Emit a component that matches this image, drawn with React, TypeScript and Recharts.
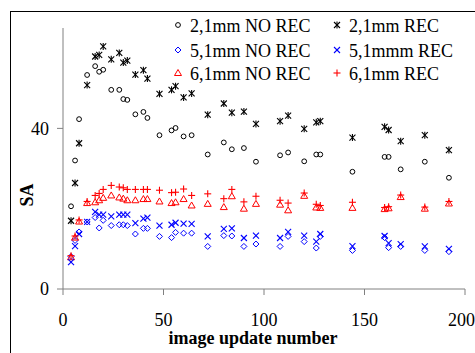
import { ScatterChart, Scatter, XAxis, YAxis } from "recharts";

const updates = [4, 6, 8, 12, 16, 18, 20, 24, 28, 30, 32, 36, 40, 42, 48, 54, 56, 60, 64, 72, 80, 84, 90, 96, 108, 112, 120, 126, 128, 144, 160, 162, 168, 180, 192];

const noRec21 = [20.6, 32, 42.3, 53.3, 55.5, 54.1, 54.6, 49.6, 49.6, 47.3, 47.1, 43.5, 44.1, 42.6, 38.3, 39.5, 40.1, 38, 38.3, 33.5, 36.5, 34.8, 35.1, 31.7, 33.3, 34, 31.8, 33.5, 33.5, 29.2, 32.9, 32.9, 29.8, 31.7, 27.7];
const rec21 = [17, 26.4, 36.3, 50.8, 57.9, 58.3, 60.4, 57.2, 58.8, 56.4, 56.9, 53.4, 54.5, 52.4, 48.6, 49.6, 50.5, 47.7, 48.7, 43.4, 46.2, 43.9, 44.2, 41.1, 41.8, 43.2, 39.9, 41.5, 41.8, 37.7, 40.4, 39.6, 36.8, 38.3, 34.6];
const noRec51 = [8.1, 12.1, 14.2, 16.7, 17.8, 15.2, 17.1, 15.8, 16, 16, 15.8, 13.7, 15.1, 15.1, 13.1, 12.8, 14.1, 13.9, 13.9, 10.6, 13.3, 13.2, 10.6, 11.2, 10.6, 13.1, 11.8, 10.2, 13.1, 9.6, 12.8, 10.3, 10.6, 9.6, 9.3];
const rec51 = [6.7, 10.7, 13.7, 16.7, 19.2, 18.5, 18.5, 18.1, 18.5, 18.5, 18.5, 16.4, 17.5, 17.8, 15.8, 16, 16.5, 16.3, 16.2, 13.1, 15, 15.1, 12.7, 13.3, 12.7, 14.2, 13.3, 11.8, 13.7, 10.7, 13.2, 11.4, 11.2, 10.6, 10];
const noRec61 = [7.9, 12.8, 16.8, 21.4, 21.6, 22.1, 22.7, 23.3, 22.8, 22.5, 22.1, 22.1, 22.4, 22.4, 21.8, 21.4, 21.6, 22.4, 20.8, 21.2, 20.4, 23.1, 20, 21.2, 21, 19.6, 23.2, 20.3, 20.2, 20.2, 19.9, 20.1, 22.9, 20, 21.3];
const rec61 = [8.3, 13.2, 17.2, 21.8, 23.3, 23.8, 24.8, 25.8, 25.4, 25.2, 24.8, 24.8, 24.8, 24.8, 24.6, 24, 24.1, 24.9, 23.3, 23.7, 22.5, 24.8, 21.7, 23.1, 22.1, 21.4, 23.9, 21.1, 20.8, 21.6, 20.3, 20.5, 23.4, 20.4, 21.8];

const xTicks = [0, 50, 100, 150, 200];
const yTicks = [0, 40];

const FONT = "'Liberation Serif', 'Times New Roman', serif";

const toPoints = (vals: number[]) => updates.map((u, i) => ({ x: u, y: vals[i] }));

type M = { cx: number; cy: number };

const CircleMark = ({ cx, cy }: M) => (
  <circle cx={cx} cy={cy} r={2.4} fill="none" stroke="#000" strokeWidth={1} />
);
const StarMark = ({ cx, cy }: M) => (
  <g stroke="#000" strokeWidth={1.1}>
    <line x1={cx - 3} y1={cy - 3} x2={cx + 3} y2={cy + 3} />
    <line x1={cx - 3} y1={cy + 3} x2={cx + 3} y2={cy - 3} />
    <line x1={cx} y1={cy - 3.5} x2={cx} y2={cy + 3.5} />
  </g>
);
const DiamondMark = ({ cx, cy }: M) => (
  <path d={`M${cx},${cy - 3}L${cx + 3},${cy}L${cx},${cy + 3}L${cx - 3},${cy}Z`} fill="none" stroke="#0000ff" strokeWidth={1} />
);
const CrossMark = ({ cx, cy }: M) => (
  <g stroke="#0000ff" strokeWidth={1.1}>
    <line x1={cx - 3} y1={cy - 3} x2={cx + 3} y2={cy + 3} />
    <line x1={cx - 3} y1={cy + 3} x2={cx + 3} y2={cy - 3} />
  </g>
);
const TriangleMark = ({ cx, cy }: M) => (
  <path d={`M${cx},${cy - 3.5}L${cx + 3.5},${cy + 2.5}L${cx - 3.5},${cy + 2.5}Z`} fill="none" stroke="#ff0000" strokeWidth={1} />
);
const PlusMark = ({ cx, cy }: M) => (
  <g stroke="#ff0000" strokeWidth={1.1}>
    <line x1={cx - 3.5} y1={cy} x2={cx + 3.5} y2={cy} />
    <line x1={cx} y1={cy - 3.5} x2={cx} y2={cy + 3.5} />
  </g>
);

const series = [
  { name: "2,1mm NO REC", vals: noRec21, Mark: CircleMark },
  { name: "5,1mm NO REC", vals: noRec51, Mark: DiamondMark },
  { name: "6,1mm NO REC", vals: noRec61, Mark: TriangleMark },
  { name: "2,1mm REC", vals: rec21, Mark: StarMark },
  { name: "5,1mmm REC", vals: rec51, Mark: CrossMark },
  { name: "6,1mm REC", vals: rec61, Mark: PlusMark },
];

const legendRows = [25, 50, 73];
const legendCols = [178, 337];

export default function App() {
  return (
    <div style={{ position: "absolute", left: 0, top: 0, width: 475, height: 353, overflow: "hidden", background: "#fff" }}>
      <div style={{ position: "absolute", left: 10, top: 11, width: 520, height: 400, border: "1px solid #000" }} />
      <div style={{ position: "absolute", left: 0, top: 0 }}>
        <ScatterChart width={475} height={353} margin={{ top: 28, right: 10, bottom: 34, left: 13 }}>
          <XAxis
            type="number"
            dataKey="x"
            domain={[0, 200]}
            ticks={xTicks}
            height={30}
            stroke="#808080"
            tickSize={6}
            tickMargin={18}
            tick={{ fill: "#000", fontSize: 18, fontFamily: FONT }}
            label={{
              content: () => (
                <text x={253} y={344} textAnchor="middle" fontFamily={FONT} fontWeight="bold" fontSize={18} fill="#000">
                  image update number
                </text>
              ),
            }}
          />
          <YAxis
            type="number"
            dataKey="y"
            domain={[0, 65]}
            ticks={yTicks}
            width={50}
            stroke="#808080"
            tickSize={6}
            tickMargin={8}
            tick={{ fill: "#000", fontSize: 18, fontFamily: FONT }}
            label={{
              content: () => (
                <text x={33} y={195} transform="rotate(-90 33 195)" textAnchor="middle" fontFamily={FONT} fontWeight="bold" fontSize={18} fill="#000">
                  SA
                </text>
              ),
            }}
          />
          {series.map((s) => (
            <Scatter
              key={s.name}
              name={s.name}
              data={toPoints(s.vals)}
              isAnimationActive={false}
              shape={(p: any) => <s.Mark cx={p.cx} cy={p.cy} />}
            />
          ))}
        </ScatterChart>
      </div>
      <svg width={475} height={100} style={{ position: "absolute", left: 0, top: 0 }}>
        {series.map((s, i) => {
          const col = legendCols[Math.floor(i / 3)];
          const row = legendRows[i % 3];
          return (
            <g key={s.name}>
              <s.Mark cx={col} cy={row} />
              <text x={col + 12} y={row + 7} fontFamily={FONT} fontSize={18} fill="#000">
                {s.name}
              </text>
            </g>
          );
        })}
      </svg>
    </div>
  );
}
